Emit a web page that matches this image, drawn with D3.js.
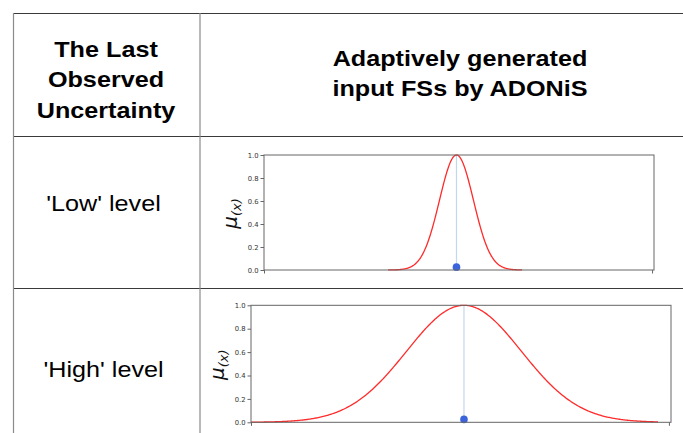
<!DOCTYPE html>
<html>
<head>
<meta charset="utf-8">
<script src="https://cdn.jsdelivr.net/npm/d3@7"></script>
<style>
  html, body { margin: 0; padding: 0; background: #fff; }
  svg { display: block; }
</style>
</head>
<body>
<svg id="fig" width="683" height="433"></svg>
<script>
// Table rows: uncertainty level names
const rowLabels = ["'Low' level", "'High' level"];
const headerLeft = ["The Last", "Observed", "Uncertainty"];
const headerRight = ["Adaptively generated", "input FSs by ADONiS"];

// Gaussian input fuzzy sets generated for each level (normalised universe)
const fsCenters = [0.496, 0.5096];
const fsSigmas = [0.0438, 0.1376];
const fsSupportStart = [0.32, 0.0];
const fsSupportEnd = [0.665, 0.974];
// Observed value marker (x position, membership drawn at the base)
const obsX = [0.496, 0.5096];
const obsY = [0.025, 0.025];

const yTicks = [0.0, 0.2, 0.4, 0.6, 0.8, 1.0];
const xTicks = [0, 1];

const svg = d3.select("#fig");

// ---- table grid ----
const grid = svg.append("g");
const hLine = (y, x1, x2) => grid.append("line").attr("x1", x1).attr("x2", x2)
  .attr("y1", y).attr("y2", y).attr("stroke", "#3a3a3a").attr("stroke-width", 1);
const vLine = (x, y1, y2) => grid.append("line").attr("x1", x).attr("x2", x)
  .attr("y1", y1).attr("y2", y2).attr("stroke", "#8a8a8a").attr("stroke-width", 1.2);
hLine(13.5, 13, 683);
hLine(136.5, 13, 683);
hLine(288.5, 13, 683);
vLine(13.5, 13, 433);
vLine(200, 13, 433);

// text slightly widened horizontally
const wideText = (parent, x, y, t) => parent.append("text")
  .attr("transform", `translate(${x},${y}) scale(1.12,1)`).text(t);

// ---- header text ----
const hdr = svg.append("g")
  .attr("font-family", "'Liberation Sans', Arial, sans-serif")
  .attr("font-weight", "bold").attr("font-size", 22.5).attr("fill", "#000")
  .attr("text-anchor", "middle");
headerLeft.forEach((t, i) => wideText(hdr, 106, 56.5 + i * 30.5, t));
headerRight.forEach((t, i) => wideText(hdr, 460, 65.5 + i * 30, t));

const rowText = svg.append("g")
  .attr("font-family", "'Liberation Sans', Arial, sans-serif")
  .attr("font-size", 22.5).attr("fill", "#000").attr("text-anchor", "middle");
const rowBaselines = [211, 376.5];
rowLabels.forEach((t, i) => wideText(rowText, 103.5, rowBaselines[i], t));

// ---- membership function panels ----
const panels = [
  { left: 264, right: 654, top: 155, bottom: 270, labelX: 237 },
  { left: 251, right: 671, top: 305.3, bottom: 422.3, labelX: 224 }
];

panels.forEach((p, i) => {
  const x = d3.scaleLinear().domain([0, 1.005]).range([p.left, p.right]);
  const y = d3.scaleLinear().domain([0, 1]).range([p.bottom, p.top]);
  const g = svg.append("g");

  // fuzzy set curve
  const xs = d3.range(0, 401).map(k => fsSupportStart[i] + (fsSupportEnd[i] - fsSupportStart[i]) * k / 400);
  const mu = v => Math.exp(-((v - fsCenters[i]) ** 2) / (2 * fsSigmas[i] ** 2));

  // observed-value guide line
  g.append("line")
    .attr("x1", x(obsX[i])).attr("x2", x(obsX[i]))
    .attr("y1", y(obsY[i])).attr("y2", y(1))
    .attr("stroke", "#c3d7ec").attr("stroke-width", 1.2);

  g.append("path")
    .datum(xs)
    .attr("d", d3.line().x(v => x(v)).y(v => y(mu(v))))
    .attr("fill", "none").attr("stroke", "#ff2a2a").attr("stroke-width", 1.3);

  g.append("circle")
    .attr("cx", x(obsX[i])).attr("cy", y(obsY[i])).attr("r", 3.8)
    .attr("fill", "#3b63dc");

  // frame
  g.append("rect")
    .attr("x", p.left).attr("y", p.top)
    .attr("width", p.right - p.left).attr("height", p.bottom - p.top)
    .attr("fill", "none").attr("stroke", "#666").attr("stroke-width", 1);

  // y axis
  const ya = g.append("g").attr("transform", `translate(${p.left},0)`)
    .call(d3.axisLeft(y).tickValues(yTicks).tickFormat(d3.format(".1f")).tickSize(3.5).tickPadding(2));
  ya.select(".domain").remove();
  ya.selectAll("line").attr("stroke", "#666");
  ya.selectAll("text").attr("font-family", "'DejaVu Sans', sans-serif").attr("font-size", 6.8).attr("fill", "#333");

  // x axis ticks
  const xa = g.append("g").attr("transform", `translate(0,${p.bottom})`)
    .call(d3.axisBottom(x).tickValues(xTicks).tickFormat("").tickSize(3.5));
  xa.select(".domain").remove();
  xa.selectAll("line").attr("stroke", "#666");

  // y label mu_(x)
  const lbl = g.append("text")
    .attr("transform", `translate(${p.labelX},${(p.top + p.bottom) / 2 + 1}) rotate(-90)`)
    .attr("text-anchor", "middle")
    .attr("font-family", "'DejaVu Sans', sans-serif").attr("font-style", "italic")
    .attr("fill", "#111");
  lbl.append("tspan").attr("font-size", 20).text("μ");
  lbl.append("tspan").attr("font-size", 13).attr("dy", 4).text("(x)");
});
</script>
</body>
</html>
